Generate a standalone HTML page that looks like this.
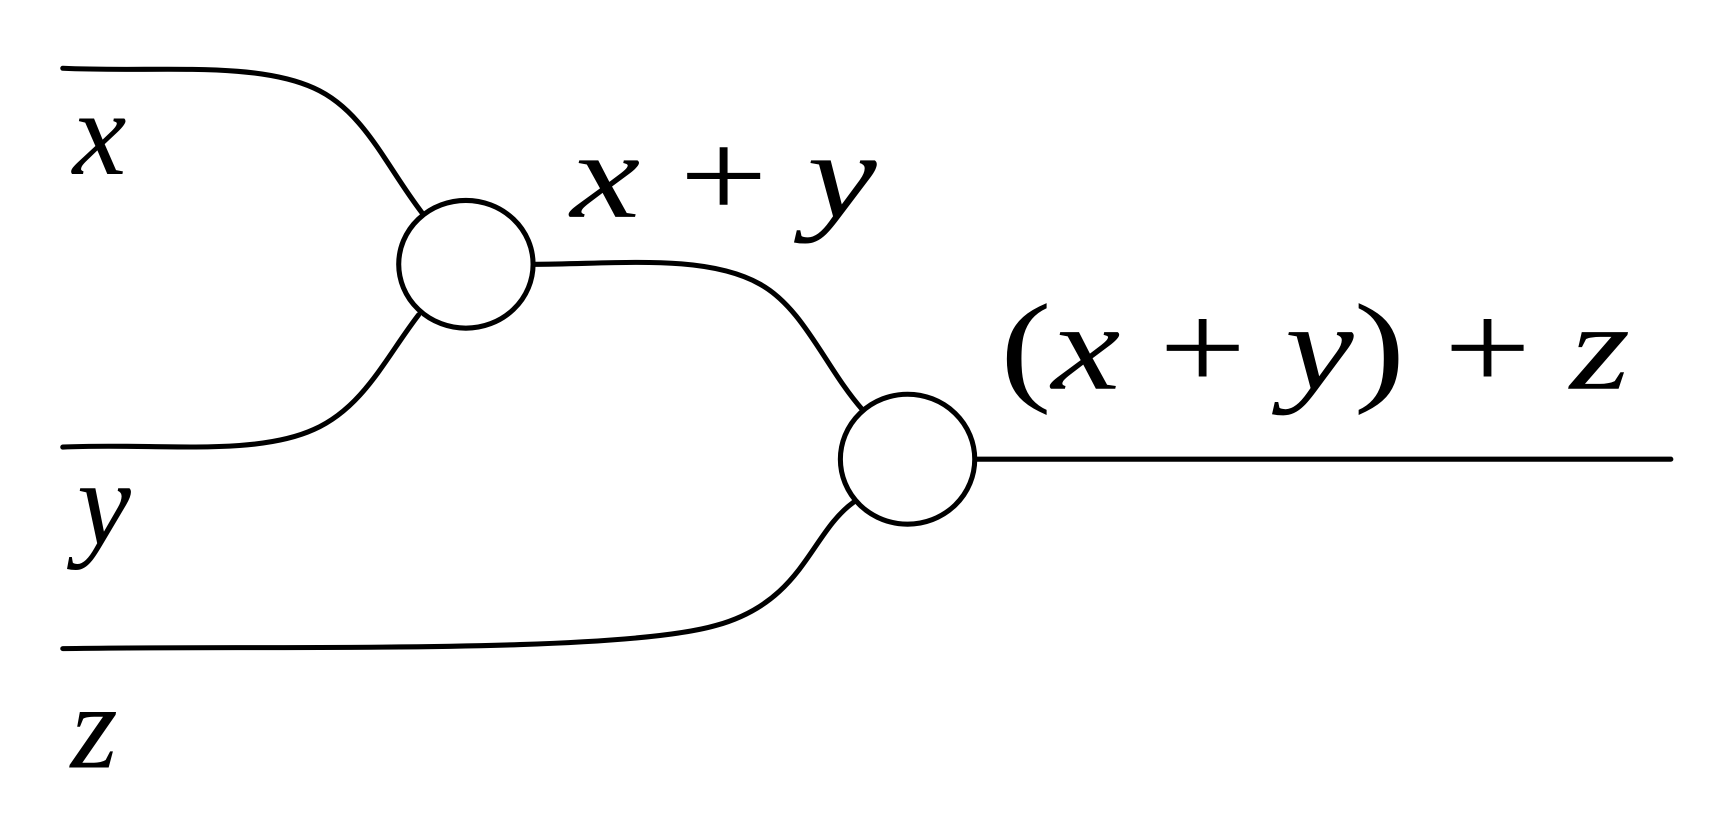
<!DOCTYPE html>
<html><head><style>html,body{margin:0;padding:0;background:#fff;}svg{display:block}</style></head>
<body>
<svg width="1727" height="827" viewBox="0 0 1568 751" preserveAspectRatio="none" xmlns="http://www.w3.org/2000/svg">
<g fill="none" stroke="#000" stroke-width="4.6" stroke-linecap="round">
<path d="M57,62 C140,66 230,55 285,80 C330,100 350,150 383,193"/>
<path d="M57,406 C140,402 230,415 285,390 C330,370 350,325 380,286"/>
<path d="M484,240 C560,240 640,230 690,258 C730,280 750,335 783,372"/>
<path d="M57,589 C250,586 560,594 650,568 C730,546 735,485 775,456"/>
<path d="M885,417 L1517,417"/>
<ellipse cx="423" cy="240" rx="61" ry="58" fill="#fff"/>
<ellipse cx="824" cy="417" rx="61" ry="59" fill="#fff"/>
</g>
<g font-family="'Liberation Serif', serif" font-style="italic" fill="#000">
<text x="66" y="158" font-size="110">x</text>
<text x="70" y="494" font-size="110">y</text>
<text x="64" y="697" font-size="110">z</text>
</g>
<g font-family="'Liberation Serif', serif" fill="#000" font-size="112">
<text x="518" y="197" textLength="278" lengthAdjust="spacingAndGlyphs"><tspan font-style="italic">x</tspan> + <tspan font-style="italic">y</tspan></text>
<text x="908" y="353" textLength="572" lengthAdjust="spacingAndGlyphs">(<tspan font-style="italic">x</tspan> + <tspan font-style="italic">y</tspan>) + <tspan font-style="italic">z</tspan></text>
</g>
</svg>
</body></html>
